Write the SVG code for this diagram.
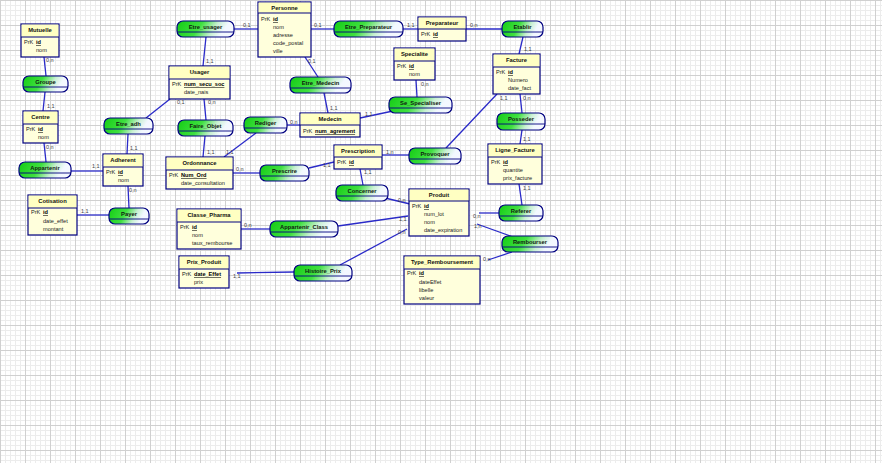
<svg xmlns="http://www.w3.org/2000/svg" width="882" height="463" viewBox="0 0 882 463">
<style>
.ent rect.b{fill:#ffffdc;stroke:#000080;stroke-width:1.2}
.ent rect.h{fill:#ffffc2;stroke:none}
.ent line{stroke:#000080;stroke-width:1}
.t{font-family:"Liberation Sans",Arial,sans-serif;font-weight:bold;font-size:5.8px;fill:#111;text-anchor:middle}
.a{font-family:"Liberation Sans",Arial,sans-serif;font-size:5.6px;fill:#222}
.pk{font-weight:bold;text-decoration:underline;fill:#000}
.rel rect{fill:url(#rg);stroke:#000080;stroke-width:1.2}
.rel line{stroke:#000080;stroke-width:0.9}
.rn{font-family:"Liberation Sans",Arial,sans-serif;font-weight:bold;font-size:5.8px;fill:#102010;text-anchor:middle}
.cn line{stroke:#2a2ac8;stroke-width:1.3}
.l{font-family:"Liberation Sans",Arial,sans-serif;font-size:5.5px;fill:#444}
</style>
<defs>
<linearGradient id="rg" x1="0" y1="0" x2="1" y2="0.2">
<stop offset="0" stop-color="#14cc14"/>
<stop offset="0.45" stop-color="#3fe03f"/>
<stop offset="0.72" stop-color="#c8f0d2"/>
<stop offset="0.9" stop-color="#f2f8ff"/>
<stop offset="1" stop-color="#f4f8ff"/>
</linearGradient>
<pattern id="grid" width="25" height="25" patternUnits="userSpaceOnUse">
<rect width="25" height="25" fill="#ffffff"/>
<rect x="5" width="1" height="25" fill="#ececec"/>
<rect x="10" width="1" height="25" fill="#ececec"/>
<rect x="15" width="1" height="25" fill="#ececec"/>
<rect x="20" width="1" height="25" fill="#ececec"/>
<rect y="5" width="25" height="1" fill="#ececec"/>
<rect y="10" width="25" height="1" fill="#ececec"/>
<rect y="15" width="25" height="1" fill="#ececec"/>
<rect y="20" width="25" height="1" fill="#ececec"/>
<rect x="0" width="1" height="25" fill="#d0d0d0"/>
<rect y="0" width="25" height="1" fill="#d0d0d0"/>
</pattern>
</defs>
<rect width="882" height="463" fill="url(#grid)"/>

<g id="connectors" class="cn">
<line x1="234" y1="29" x2="258" y2="29"/>
<line x1="206" y1="37" x2="203" y2="66"/>
<line x1="311" y1="29" x2="334" y2="29"/>
<line x1="403" y1="29" x2="418" y2="29"/>
<line x1="466" y1="29" x2="502" y2="29"/>
<line x1="523" y1="37" x2="519" y2="54"/>
<line x1="305" y1="57" x2="318" y2="77"/>
<line x1="324" y1="93" x2="328" y2="113"/>
<line x1="360" y1="118" x2="393" y2="111"/>
<line x1="417" y1="97" x2="416" y2="80"/>
<line x1="287" y1="125" x2="300" y2="125"/>
<line x1="256" y1="133" x2="224" y2="157"/>
<line x1="204" y1="99" x2="206" y2="120"/>
<line x1="205" y1="136" x2="203" y2="157"/>
<line x1="170" y1="99" x2="146" y2="118"/>
<line x1="128" y1="134" x2="127" y2="154"/>
<line x1="44" y1="57" x2="46" y2="76"/>
<line x1="45" y1="92" x2="43" y2="111"/>
<line x1="44" y1="143" x2="46" y2="162"/>
<line x1="71" y1="171" x2="103" y2="171"/>
<line x1="128" y1="186" x2="129" y2="208"/>
<line x1="77" y1="215" x2="109" y2="215"/>
<line x1="233" y1="173" x2="260" y2="173"/>
<line x1="309" y1="168" x2="334" y2="162"/>
<line x1="382" y1="155" x2="409" y2="155"/>
<line x1="446" y1="148" x2="497" y2="94"/>
<line x1="520" y1="94" x2="522" y2="113"/>
<line x1="522" y1="130" x2="520" y2="144"/>
<line x1="519" y1="184" x2="522" y2="205"/>
<line x1="479" y1="213" x2="499" y2="213"/>
<line x1="477" y1="224" x2="513" y2="237"/>
<line x1="512" y1="252" x2="488" y2="260"/>
<line x1="363" y1="185" x2="360" y2="169"/>
<line x1="385" y1="198" x2="410" y2="204"/>
<line x1="338" y1="226" x2="408" y2="216"/>
<line x1="241" y1="229" x2="270" y2="229"/>
<line x1="340" y1="265" x2="407" y2="229"/>
<line x1="237" y1="273" x2="294" y2="272"/>
</g>

<g id="cardinalities">
<text class="l" x="243" y="27">0,1</text>
<text class="l" x="206" y="63">1,1</text>
<text class="l" x="314" y="27">0,1</text>
<text class="l" x="407" y="27">1,1</text>
<text class="l" x="470" y="27">0,n</text>
<text class="l" x="524" y="51">1,1</text>
<text class="l" x="308" y="63">0,1</text>
<text class="l" x="330" y="110">1,1</text>
<text class="l" x="365" y="116">1,1</text>
<text class="l" x="421" y="86">0,n</text>
<text class="l" x="290" y="124">0,n</text>
<text class="l" x="226" y="154">1,1</text>
<text class="l" x="208" y="104">0,n</text>
<text class="l" x="207" y="154">1,1</text>
<text class="l" x="177" y="104">0,1</text>
<text class="l" x="130" y="150">1,1</text>
<text class="l" x="46" y="62">0,n</text>
<text class="l" x="47" y="108">1,1</text>
<text class="l" x="46" y="149">0,n</text>
<text class="l" x="92" y="168">1,1</text>
<text class="l" x="129" y="192">0,n</text>
<text class="l" x="81" y="213">1,1</text>
<text class="l" x="236" y="171">0,n</text>
<text class="l" x="323" y="167">1,1</text>
<text class="l" x="386" y="154">1,n</text>
<text class="l" x="500" y="100">1,1</text>
<text class="l" x="523" y="100">0,n</text>
<text class="l" x="523" y="141">1,1</text>
<text class="l" x="523" y="190">1,1</text>
<text class="l" x="473" y="218">0,n</text>
<text class="l" x="474" y="228">1,n</text>
<text class="l" x="483" y="261">0,n</text>
<text class="l" x="364" y="174">1,1</text>
<text class="l" x="398" y="202">0,n</text>
<text class="l" x="399" y="221">1,1</text>
<text class="l" x="244" y="227">0,n</text>
<text class="l" x="398" y="234">0,n</text>
<text class="l" x="233" y="278">1,1</text>
</g>

<!-- Relations -->
<g id="Etre_usager" class="rel"><rect x="177" y="21" width="57" height="16" rx="6"/><line x1="177" y1="32" x2="234" y2="32"/><text class="rn" x="205.5" y="28.5">Etre_usager</text></g>
<g id="Etre_Preparateur" class="rel"><rect x="334" y="21" width="69" height="16" rx="6"/><line x1="334" y1="32" x2="403" y2="32"/><text class="rn" x="368.5" y="28.5">Etre_Preparateur</text></g>
<g id="Etablir" class="rel"><rect x="502" y="21" width="41" height="16" rx="6"/><line x1="502" y1="32" x2="543" y2="32"/><text class="rn" x="522.5" y="28.5">Etablir</text></g>
<g id="Groupe" class="rel"><rect x="23" y="76" width="45" height="16" rx="6"/><line x1="23" y1="87" x2="68" y2="87"/><text class="rn" x="45.5" y="83.5">Groupe</text></g>
<g id="Etre_Medecin" class="rel"><rect x="290" y="77" width="61" height="16" rx="6"/><line x1="290" y1="88" x2="351" y2="88"/><text class="rn" x="320.5" y="84.5">Etre_Medecin</text></g>
<g id="Se_Specialiser" class="rel"><rect x="389" y="97" width="63" height="16" rx="6"/><line x1="389" y1="108" x2="452" y2="108"/><text class="rn" x="420.5" y="104.5">Se_Specialiser</text></g>
<g id="Posseder" class="rel"><rect x="497" y="113" width="48" height="17" rx="6"/><line x1="497" y1="124" x2="545" y2="124"/><text class="rn" x="521" y="120.5">Posseder</text></g>
<g id="Rediger" class="rel"><rect x="244" y="117" width="43" height="16" rx="6"/><line x1="244" y1="128" x2="287" y2="128"/><text class="rn" x="265.5" y="124.5">Rediger</text></g>
<g id="Etre_adh" class="rel"><rect x="104" y="118" width="49" height="16" rx="6"/><line x1="104" y1="129" x2="153" y2="129"/><text class="rn" x="128.5" y="125.5">Etre_adh</text></g>
<g id="Faire_Objet" class="rel"><rect x="178" y="120" width="55" height="16" rx="6"/><line x1="178" y1="131" x2="233" y2="131"/><text class="rn" x="205.5" y="127.5">Faire_Objet</text></g>
<g id="Provoquer" class="rel"><rect x="409" y="148" width="52" height="16" rx="6"/><line x1="409" y1="159" x2="461" y2="159"/><text class="rn" x="435" y="155.5">Provoquer</text></g>
<g id="Appartenir" class="rel"><rect x="19" y="162" width="52" height="16" rx="6"/><line x1="19" y1="173" x2="71" y2="173"/><text class="rn" x="45" y="169.5">Appartenir</text></g>
<g id="Prescrire" class="rel"><rect x="260" y="165" width="49" height="16" rx="6"/><line x1="260" y1="176" x2="309" y2="176"/><text class="rn" x="284.5" y="172.5">Prescrire</text></g>
<g id="Concerner" class="rel"><rect x="336" y="185" width="52" height="16" rx="6"/><line x1="336" y1="196" x2="388" y2="196"/><text class="rn" x="362" y="192.5">Concerner</text></g>
<g id="Payer" class="rel"><rect x="109" y="208" width="40" height="16" rx="6"/><line x1="109" y1="219" x2="149" y2="219"/><text class="rn" x="129" y="215.5">Payer</text></g>
<g id="Referer" class="rel"><rect x="499" y="205" width="44" height="16" rx="6"/><line x1="499" y1="216" x2="543" y2="216"/><text class="rn" x="521" y="212.5">Referer</text></g>
<g id="Appartenir_Class" class="rel"><rect x="270" y="221" width="68" height="16" rx="6"/><line x1="270" y1="232" x2="338" y2="232"/><text class="rn" x="304" y="228.5">Appartenir_Class</text></g>
<g id="Rembourser" class="rel"><rect x="502" y="236" width="56" height="16" rx="6"/><line x1="502" y1="247" x2="558" y2="247"/><text class="rn" x="530" y="243.5">Rembourser</text></g>
<g id="Histoire_Prix" class="rel"><rect x="294" y="265" width="58" height="16" rx="6"/><line x1="294" y1="276" x2="352" y2="276"/><text class="rn" x="323" y="272.5">Histoire_Prix</text></g>

<!-- Entities -->
<g id="Mutuelle" class="ent"><rect class="b" x="21" y="24" width="38" height="33"/><rect class="h" x="21.6" y="24.6" width="36.8" height="12.4"/><line x1="21" y1="37" x2="59" y2="37"/><text class="t" x="40" y="32">Mutuelle</text><text class="a" x="24" y="44">PrK</text><text class="a pk" x="36" y="44">id</text><text class="a" x="36" y="52">nom</text></g>
<g id="Personne" class="ent"><rect class="b" x="258" y="2" width="53" height="55"/><rect class="h" x="258.6" y="2.6" width="51.8" height="10.4"/><line x1="258" y1="13" x2="311" y2="13"/><text class="t" x="284.5" y="9.5">Personne</text><text class="a" x="261" y="21">PrK</text><text class="a pk" x="273" y="21">id</text><text class="a" x="273" y="29">nom</text><text class="a" x="273" y="37">adresse</text><text class="a" x="273" y="45">code_postal</text><text class="a" x="273" y="53">ville</text></g>
<g id="Preparateur" class="ent"><rect class="b" x="418" y="17" width="48" height="24"/><rect class="h" x="418.6" y="17.6" width="46.8" height="11.4"/><line x1="418" y1="29" x2="466" y2="29"/><text class="t" x="442" y="25">Preparateur</text><text class="a" x="421" y="36">PrK</text><text class="a pk" x="433" y="36">id</text></g>
<g id="Specialite" class="ent"><rect class="b" x="394" y="48" width="41" height="32"/><rect class="h" x="394.6" y="48.6" width="39.8" height="12.4"/><line x1="394" y1="61" x2="435" y2="61"/><text class="t" x="414.5" y="56">Specialite</text><text class="a" x="397" y="68">PrK</text><text class="a pk" x="409" y="68">id</text><text class="a" x="409" y="76">nom</text></g>
<g id="Usager" class="ent"><rect class="b" x="169" y="66" width="61" height="33"/><rect class="h" x="169.6" y="66.6" width="59.8" height="12.4"/><line x1="169" y1="79" x2="230" y2="79"/><text class="t" x="199.5" y="74">Usager</text><text class="a" x="172" y="86">PrK</text><text class="a pk" x="184" y="86">num_secu_soc</text><text class="a" x="184" y="94">date_nais</text></g>
<g id="Facture" class="ent"><rect class="b" x="493" y="54" width="47" height="40"/><rect class="h" x="493.6" y="54.6" width="45.8" height="12.4"/><line x1="493" y1="67" x2="540" y2="67"/><text class="t" x="516.5" y="62">Facture</text><text class="a" x="496" y="74">PrK</text><text class="a pk" x="508" y="74">id</text><text class="a" x="508" y="82">Numero</text><text class="a" x="508" y="90">date_fact</text></g>
<g id="Centre" class="ent"><rect class="b" x="23" y="111" width="35" height="32"/><rect class="h" x="23.6" y="111.6" width="33.8" height="12.4"/><line x1="23" y1="124" x2="58" y2="124"/><text class="t" x="40.5" y="119">Centre</text><text class="a" x="26" y="131">PrK</text><text class="a pk" x="38" y="131">id</text><text class="a" x="38" y="139">nom</text></g>
<g id="Medecin" class="ent"><rect class="b" x="300" y="113" width="60" height="24"/><rect class="h" x="300.6" y="113.6" width="58.8" height="11.4"/><line x1="300" y1="125" x2="360" y2="125"/><text class="t" x="330" y="121">Medecin</text><text class="a" x="303" y="133">PrK</text><text class="a pk" x="315" y="133">num_agrement</text></g>
<g id="Ligne_Facture" class="ent"><rect class="b" x="488" y="144" width="54" height="40"/><rect class="h" x="488.6" y="144.6" width="52.8" height="12.4"/><line x1="488" y1="157" x2="542" y2="157"/><text class="t" x="515" y="152">Ligne_Facture</text><text class="a" x="491" y="164">PrK</text><text class="a pk" x="503" y="164">id</text><text class="a" x="503" y="172">quantite</text><text class="a" x="503" y="180">prix_facture</text></g>
<g id="Prescription" class="ent"><rect class="b" x="334" y="145" width="48" height="24"/><rect class="h" x="334.6" y="145.6" width="46.8" height="11.4"/><line x1="334" y1="157" x2="382" y2="157"/><text class="t" x="358" y="152.5">Prescription</text><text class="a" x="337" y="164">PrK</text><text class="a pk" x="349" y="164">id</text></g>
<g id="Adherent" class="ent"><rect class="b" x="103" y="154" width="40" height="32"/><rect class="h" x="103.6" y="154.6" width="38.8" height="12.4"/><line x1="103" y1="167" x2="143" y2="167"/><text class="t" x="123" y="162">Adherent</text><text class="a" x="106" y="174">PrK</text><text class="a pk" x="118" y="174">id</text><text class="a" x="118" y="182">nom</text></g>
<g id="Ordonnance" class="ent"><rect class="b" x="166" y="157" width="67" height="32"/><rect class="h" x="166.6" y="157.6" width="65.8" height="12.4"/><line x1="166" y1="170" x2="233" y2="170"/><text class="t" x="199.5" y="165">Ordonnance</text><text class="a" x="169" y="177">PrK</text><text class="a pk" x="181" y="177">Num_Ord</text><text class="a" x="181" y="185">date_consultation</text></g>
<g id="Produit" class="ent"><rect class="b" x="409" y="189" width="60" height="47"/><rect class="h" x="409.6" y="189.6" width="58.8" height="11.4"/><line x1="409" y1="201" x2="469" y2="201"/><text class="t" x="439" y="197">Produit</text><text class="a" x="412" y="208">PrK</text><text class="a pk" x="424" y="208">id</text><text class="a" x="424" y="216">num_lot</text><text class="a" x="424" y="224">nom</text><text class="a" x="424" y="232">date_expiration</text></g>
<g id="Cotisation" class="ent"><rect class="b" x="28" y="195" width="49" height="40"/><rect class="h" x="28.6" y="195.6" width="47.8" height="12.4"/><line x1="28" y1="208" x2="77" y2="208"/><text class="t" x="52.5" y="203">Cotisation</text><text class="a" x="31" y="214">PrK</text><text class="a pk" x="43" y="214">id</text><text class="a" x="43" y="223">date_effet</text><text class="a" x="43" y="231">montant</text></g>
<g id="Classe_Pharma" class="ent"><rect class="b" x="177" y="209" width="64" height="40"/><rect class="h" x="177.6" y="209.6" width="62.8" height="12.4"/><line x1="177" y1="222" x2="241" y2="222"/><text class="t" x="209" y="217">Classe_Pharma</text><text class="a" x="180" y="229">PrK</text><text class="a pk" x="192" y="229">id</text><text class="a" x="192" y="237">nom</text><text class="a" x="192" y="245">taux_rembourse</text></g>
<g id="Prix_Produit" class="ent"><rect class="b" x="179" y="256" width="50" height="32"/><rect class="h" x="179.6" y="256.6" width="48.8" height="12.4"/><line x1="179" y1="269" x2="229" y2="269"/><text class="t" x="204" y="264">Prix_Produit</text><text class="a" x="182" y="276">PrK</text><text class="a pk" x="194" y="276">date_Effet</text><text class="a" x="194" y="284">prix</text></g>
<g id="Type_Remboursement" class="ent"><rect class="b" x="404" y="256" width="76" height="48"/><rect class="h" x="404.6" y="256.6" width="74.8" height="12.4"/><line x1="404" y1="269" x2="480" y2="269"/><text class="t" x="442" y="264">Type_Remboursement</text><text class="a" x="407" y="275">PrK</text><text class="a pk" x="419" y="275">id</text><text class="a" x="419" y="284">dateEffet</text><text class="a" x="419" y="292">libelle</text><text class="a" x="419" y="300">valeur</text></g>
</svg>
